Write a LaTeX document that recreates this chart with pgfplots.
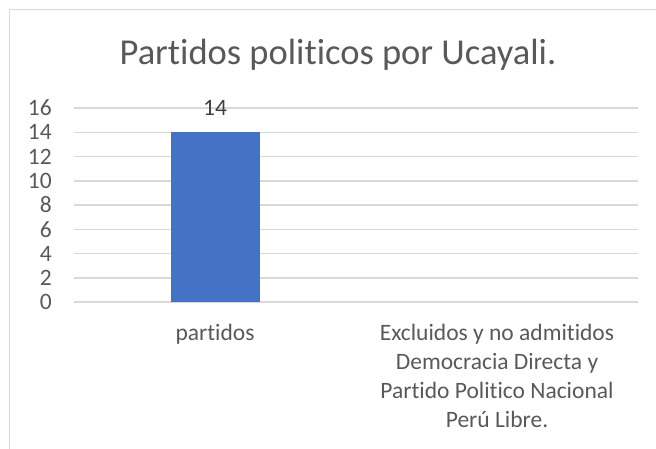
\documentclass[border=0pt]{standalone}
\usepackage{pgfplots}
\pgfplotsset{compat=1.18}
\usepackage{fontspec}
\setmainfont{Carlito}[Ligatures={NoCommon}]
\definecolor{txt}{HTML}{595959}
\definecolor{lbl}{HTML}{404040}
\definecolor{gridc}{HTML}{D9D9D9}
\definecolor{barc}{HTML}{4472C4}
\begin{document}
\begin{tikzpicture}[x=1pt,y=1pt]
\path[use as bounding box] (0,0) rectangle (656,448);
\draw[gridc, line width=1.5pt] (9.5,-2) -- (9.5,438.5) -- (658,438.5);
\node[anchor=base, text=txt, font=\fontsize{36.5}{44}\selectfont, inner sep=0pt] at (338,383) {Partidos politicos por Ucayali.};
\begin{axis}[
 at={(74pt,146pt)}, anchor=south west,
 scale only axis, width=564pt, height=194pt,
 xmin=-0.5, xmax=1.5, ymin=0, ymax=16,
 ytick={0,2,...,16}, xtick={0,1},
 xticklabels={partidos, {Excluidos y no admitidos\\Democracia Directa y\\Partido Politico Nacional\\Perú Libre.}},
 axis line style={draw=none},
 major tick length=0pt,
 ymajorgrids, grid style={gridc, line width=1.5pt},
 tick label style={text=txt, font=\fontsize{23.5}{29}\selectfont},
 yticklabel style={anchor=east, inner sep=0pt, xshift=-22pt},
 xticklabel style={align=center, anchor=north, inner sep=0pt, yshift=-22pt},
 /pgf/number format/assume math mode=true,
 ybar, bar width=89pt,
 nodes near coords,
 nodes near coords style={text=lbl, font=\fontsize{23.5}{29}\selectfont, inner sep=0pt, yshift=17pt},
]
\addplot[fill=barc, draw=none] coordinates {(0,14)};
\end{axis}
\end{tikzpicture}
\end{document}
